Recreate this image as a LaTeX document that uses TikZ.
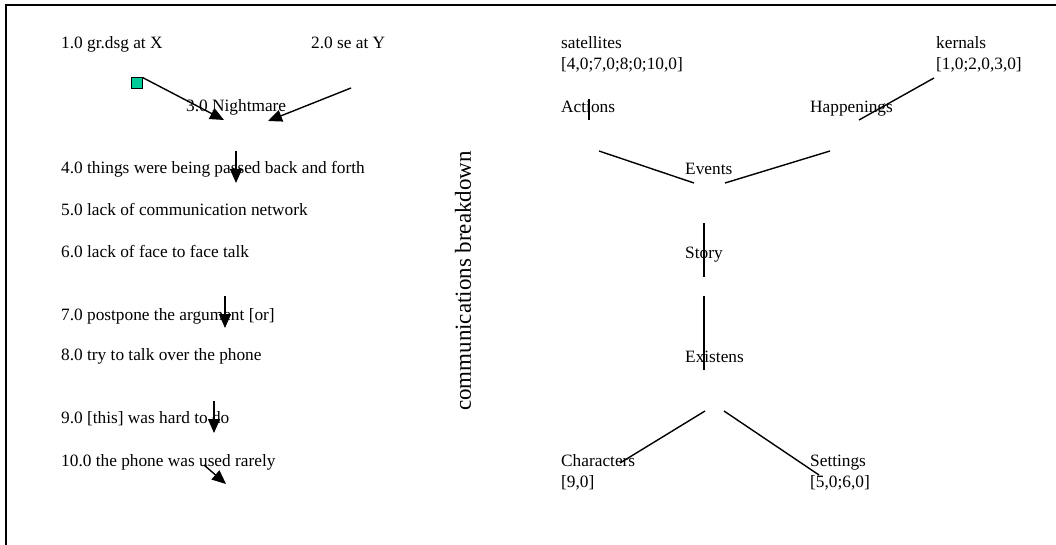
\documentclass[tikz,border=0pt]{standalone}
\usepackage{fontspec}
\setmainfont{Liberation Serif}
\usetikzlibrary{arrows.meta}
\definecolor{mint}{RGB}{0,204,153}
\begin{document}
\begin{tikzpicture}[x=1pt,y=-1pt,
  lbl/.style={anchor=base west,inner sep=0pt,font=\fontsize{17.3}{20}\selectfont},
  big/.style={inner sep=0pt,font=\fontsize{23}{26}\selectfont},
  link/.style={line width=1.4pt},
  arr/.style={line width=1.4pt,-{Triangle[length=14pt,width=12pt]}},
  frameline/.style={line width=2pt}]
\useasboundingbox (0,0) rectangle (1056,545);

% frame on the left and top edges
\coordinate (fb) at (6,545);
\coordinate (fc) at (6,5);
\coordinate (fr) at (1056,5);
\draw[frameline] (fb) -- (fc) -- (fr);

% left column: numbered statements
\node[lbl] (n1) at (61,49) {1.0 gr.dsg at X};
\node[lbl] (n2) at (311,49) {2.0 se at Y};
\node[lbl] (n3) at (186,112) {3.0 Nightmare};
\node[lbl] (n4) at (61,174) {4.0 things were being passed back and forth};
\node[lbl] (n5) at (61,216) {5.0 lack of communication network};
\node[lbl] (n6) at (61,257) {6.0 lack of face to face talk};
\node[lbl] (n7) at (61,320) {7.0 postpone the argument [or]};
\node[lbl] (n8) at (61,360) {8.0 try to talk over the phone};
\node[lbl] (n9) at (61,423) {9.0 [this] was hard to do};
\node[lbl] (n10) at (61,466) {10.0 the phone was used rarely};

% small marker square
\node[draw=black,fill=mint,line width=1pt,minimum size=11pt,inner sep=0pt] (sq) at (136.5,83.5) {};

% arrows of the left column
\coordinate (a1e) at (224,120);
\coordinate (a2s) at (351,88);
\coordinate (a2e) at (268,121);
\coordinate (a4s) at (236,151);
\coordinate (a4e) at (236,183);
\coordinate (a7s) at (225,296);
\coordinate (a7e) at (225,328);
\coordinate (a9s) at (214,401);
\coordinate (a9e) at (214,433);
\coordinate (a10s) at (204,465);
\coordinate (a10e) at (226,484);
\draw[arr] (sq.north east) -- (a1e);
\draw[arr] (a2s) -- (a2e);
\draw[arr] (a4s) -- (a4e);
\draw[arr] (a7s) -- (a7e);
\draw[arr] (a9s) -- (a9e);
\draw[arr] (a10s) -- (a10e);

% vertical title
\node[big,rotate=90] (title) at (463,281) {communications breakdown};

% right column: story structure
\node[lbl] (sat) at (561,49) {satellites};
\node[lbl] (satl) at (561,70) {[4,0;7,0;8;0;10,0]};
\node[lbl] (ker) at (936,49) {kernals};
\node[lbl] (kerl) at (936,70) {[1,0;2,0,3,0]};
\node[lbl] (act) at (561,113) {Actions};
\node[lbl] (hap) at (810,113) {Happenings};
\node[lbl] (ev) at (685,175) {Events};
\node[lbl] (st) at (685,258) {Story};
\node[lbl] (ex) at (685,362) {Existens};
\node[lbl] (ch) at (561,466) {Characters};
\node[lbl] (chl) at (561,487) {[9,0]};
\node[lbl] (se) at (810,466) {Settings};
\node[lbl] (sel) at (810,487) {[5,0;6,0]};

\coordinate (l1a) at (589,99);
\coordinate (l1b) at (589,120);
\coordinate (l2a) at (934,78);
\coordinate (l2b) at (859,120);
\coordinate (l3a) at (599,151);
\coordinate (l3b) at (694,183);
\coordinate (l4a) at (725,183);
\coordinate (l4b) at (830,151);
\coordinate (l5a) at (704,223);
\coordinate (l5b) at (704,277);
\coordinate (l6a) at (704,296);
\coordinate (l6b) at (704,370);
\coordinate (l7a) at (705,411);
\coordinate (l7b) at (620,463);
\coordinate (l8a) at (724,411);
\coordinate (l8b) at (819,475);
\draw[link] (l1a) -- (l1b);
\draw[link] (l2a) -- (l2b);
\draw[link] (l3a) -- (l3b);
\draw[link] (l4a) -- (l4b);
\draw[link] (l5a) -- (l5b);
\draw[link] (l6a) -- (l6b);
\draw[link] (l7a) -- (l7b);
\draw[link] (l8a) -- (l8b);
\end{tikzpicture}
\end{document}
